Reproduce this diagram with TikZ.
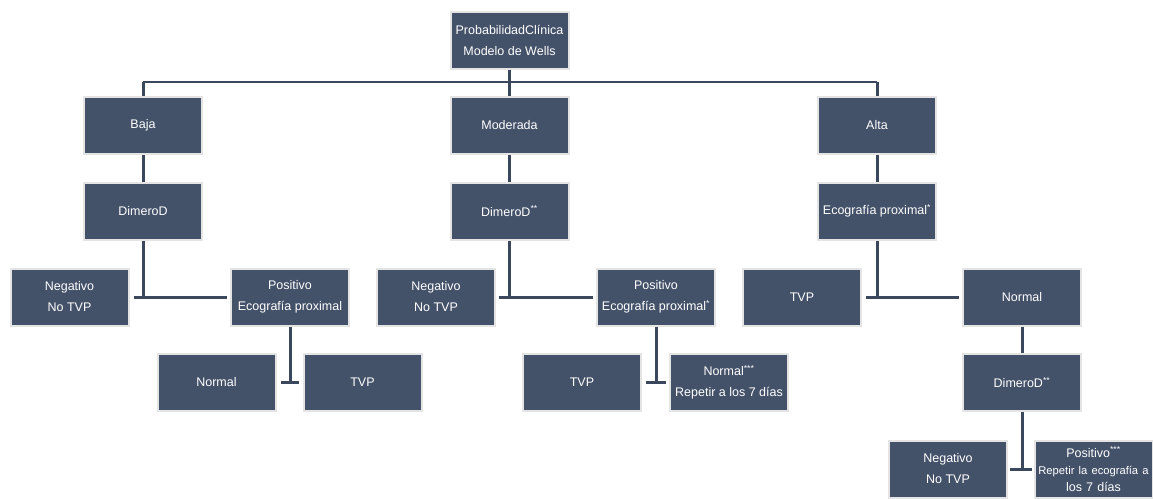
\documentclass[tikz,border=0pt]{standalone}
\usepackage{fontspec}
\setmainfont{Liberation Sans}
\definecolor{boxfill}{HTML}{435169}
\definecolor{boxedge}{HTML}{E4E4E4}
\definecolor{linecol}{HTML}{3B475C}
\begin{document}
\begin{tikzpicture}[x=1pt,y=-1pt,
  box/.style={fill=boxfill,draw=boxedge,line width=2pt,minimum width=118pt,minimum height=57pt,
    inner sep=0pt,text=white,align=center,font=\fontsize{12.5}{21}\selectfont},
  conn/.style={draw=linecol,line width=3pt},
  bus/.style={draw=linecol,line width=2.5pt}]
\useasboundingbox (0,0) rectangle (1153,498);
\begin{scope}
\clip (0,0) rectangle (1153,498);
% row 1
\node[box] (top) at (509.5,40) {ProbabilidadClínica\\ Modelo de Wells};
% row 2
\node[box] (baja) at (143,125.5) {Baja};
\node[box] (mod) at (509.5,125.5) {Moderada};
\node[box] (alta) at (877,125.5) {Alta};
% row 3
\node[box] (dimA) at (143,211) {DimeroD};
\node[box] (dimB) at (509.5,211) {DimeroD\textsuperscript{**}};
\node[box] (ecoC) at (877,211) {Ecografía proximal\textsuperscript{*}};
% row 4
\node[box] (negA) at (69.5,297) {Negativo\\ No TVP};
\node[box] (posA) at (290,297) {Positivo\\ Ecografía proximal};
\node[box] (negB) at (436,297) {Negativo\\ No TVP};
\node[box] (posB) at (656,297) {Positivo\\ Ecografía proximal\textsuperscript{*}};
\node[box] (tvpC) at (802,297) {TVP};
\node[box] (normC) at (1022,297) {Normal};
% row 5
\node[box] (normA) at (216.5,382.5) {Normal};
\node[box] (tvpA) at (362.5,382.5) {TVP};
\node[box] (tvpB) at (582,382.5) {TVP};
\node[box] (normB) at (729,382.5) {Normal\textsuperscript{***}\\ Repetir a los 7 días};
\node[box] (dimC) at (1022,382.5) {DimeroD\textsuperscript{**}};
% row 6
\node[box] (negC) at (948,469) {Negativo\\ No TVP};
\node[box,font=\fontsize{12.5}{17}\selectfont,text width=116pt] (posC) at (1093.5,469) {Positivo\textsuperscript{***}\\ {\fontsize{11.2}{17}\selectfont Repetir la ecografía a}\\ los 7 días};
\end{scope}
% connectors
\coordinate (busL) at (baja.north |- 0,82);
\coordinate (busR) at (alta.north |- 0,82);
\draw[bus] (busL) -- (busR);
\draw[conn] (busL) -- (baja.north);
\draw[conn] (busR) -- (alta.north);
\draw[conn] (top.south) -- (mod.north);
\draw[conn] (baja.south) -- (dimA.north);
\draw[conn] (mod.south) -- (dimB.north);
\draw[conn] (alta.south) -- (ecoC.north);
% T junctions
\draw[conn] (dimA.south) -- (dimA.south |- negA.east);
\draw[conn] ([xshift=4pt]negA.east) -- ([xshift=-3pt]posA.west);
\draw[conn] (dimB.south) -- (dimB.south |- negB.east);
\draw[conn] ([xshift=3pt]negB.east) -- ([xshift=-3pt]posB.west);
\draw[conn] (ecoC.south) -- (ecoC.south |- tvpC.east);
\draw[conn] ([xshift=4pt]tvpC.east) -- ([xshift=-3pt]normC.west);
\draw[conn] (posA.south) -- (posA.south |- normA.east);
\draw[conn] ([xshift=4pt]normA.east) -- ([xshift=-4pt]tvpA.west);
\draw[conn] (posB.south) -- (posB.south |- tvpB.east);
\draw[conn] ([xshift=4pt]tvpB.east) -- ([xshift=-3pt]normB.west);
\draw[conn] (normC.south) -- (dimC.north);
\draw[conn] (dimC.south) -- (dimC.south |- negC.east);
\draw[conn] ([xshift=2pt]negC.east) -- ([xshift=-2pt]posC.west);
\end{tikzpicture}
\end{document}
